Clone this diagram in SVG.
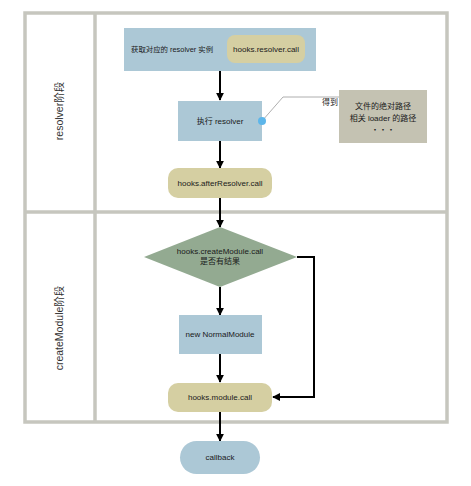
<svg xmlns="http://www.w3.org/2000/svg" width="471" height="486" viewBox="0 0 471 486">
<defs>
<style>
.t{font-family:"Liberation Sans","Noto Sans CJK SC",sans-serif;font-size:8px;fill:#1a1a1a;text-anchor:middle}
.lane{font-family:"Liberation Sans","Noto Sans CJK SC",sans-serif;font-size:10.5px;fill:#333;text-anchor:middle}
.blue{fill:#acc8d6}
.khaki{fill:#d5cfa2}
.edge{stroke:#000;stroke-width:2;fill:none}
.frame{stroke:#c6c6be;stroke-width:3.5;fill:none}
</style>
<marker id="ah" viewBox="0 0 10 10" refX="9" refY="5" markerWidth="4" markerHeight="4" orient="auto">
<path d="M0,0L10,5L0,10z" fill="#000"/>
</marker>
</defs>
<rect width="471" height="486" fill="#fff"/>
<g id="lanes">
<rect class="frame" x="25" y="13" width="422" height="409"/>
<line class="frame" x1="95" y1="13" x2="95" y2="422"/>
<line class="frame" x1="25" y1="212" x2="447" y2="212"/>
<text class="lane" transform="translate(63,111) rotate(-90)">resolver阶段</text>
<text class="lane" transform="translate(63,328) rotate(-90)">createModule阶段</text>
</g>
<g id="connectors">
<line class="edge" x1="220" y1="71" x2="220" y2="100" marker-end="url(#ah)"/>
<line class="edge" x1="220" y1="141" x2="220" y2="168" marker-end="url(#ah)"/>
<line class="edge" x1="220" y1="198" x2="220" y2="227" marker-end="url(#ah)"/>
<line class="edge" x1="220" y1="287" x2="220" y2="315" marker-end="url(#ah)"/>
<line class="edge" x1="220" y1="354" x2="220" y2="382" marker-end="url(#ah)"/>
<line class="edge" x1="220" y1="412" x2="220" y2="441" marker-end="url(#ah)"/>
<polyline class="edge" points="297,257 314,257 314,397 273,397" marker-end="url(#ah)"/>
<polyline points="262,121 283,97 339,97" fill="none" stroke="#999" stroke-width="0.8"/>
<text class="t" x="330" y="105">得到</text>
</g>
<g id="n1">
<rect class="blue" x="124" y="28" width="192" height="43"/>
<text class="t" x="131" y="52" style="text-anchor:start;font-size:7.4px">获取对应的 resolver 实例</text>
</g>
<g id="n1b">
<rect class="khaki" x="227" y="35" width="78" height="28" rx="8"/>
<text class="t" x="266" y="52">hooks.resolver.call</text>
</g>
<g id="n2">
<rect class="blue" x="178" y="101" width="84" height="40"/>
<text class="t" x="220" y="124">执行 resolver</text>
<circle cx="262" cy="121" r="4" fill="#5db6ea"/>
</g>
<g id="note">
<rect x="339" y="90" width="88" height="53" fill="#c4c2b2"/>
<text class="t" x="383" y="109">文件的绝对路径</text>
<text class="t" x="383" y="121">相关 loader 的路径</text>
<text class="t" x="383" y="133">・・・</text>
</g>
<g id="n3">
<rect class="khaki" x="168" y="168" width="104" height="30" rx="10"/>
<text class="t" x="220" y="186">hooks.afterResolver.call</text>
</g>
<g id="n4">
<polygon points="220,227 297,257 220,287 144,257" fill="#93aa91"/>
<text class="t" x="220" y="254">hooks.createModule.call</text>
<text class="t" x="220" y="264">是否有结果</text>
</g>
<g id="n5">
<rect class="blue" x="179" y="315" width="83" height="39"/>
<text class="t" x="220" y="337">new NormalModule</text>
</g>
<g id="n6">
<rect class="khaki" x="168" y="383" width="104" height="29" rx="10"/>
<text class="t" x="220" y="400">hooks.module.call</text>
</g>
<g id="n7">
<rect class="blue" x="180" y="441" width="80" height="33" rx="16.5"/>
<text class="t" x="220" y="460">callback</text>
</g>
</svg>
